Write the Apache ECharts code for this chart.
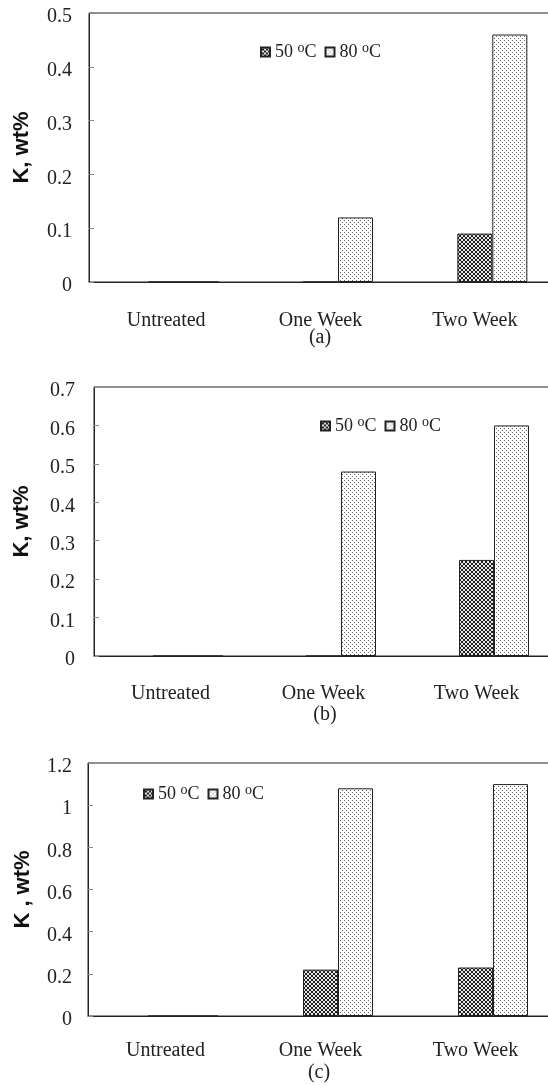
<!DOCTYPE html>
<html>
<head>
<meta charset="utf-8">
<script src="https://cdn.jsdelivr.net/npm/echarts@6/dist/echarts.min.js"></script>
<style>
html,body{margin:0;padding:0;background:#fff;}
#chart{width:548px;height:1085px;}
</style>
</head>
<body>
<div id="chart"></div>
<script>
// ---- data ----
var categories = ['Untreated', 'One Week', 'Two Week'];
var seriesNames = ['50', '80'];
var spacer = ['-', '-', '-'];
var a50 = [0, 0, 0.09];
var a80 = [0, 0.12, 0.46];
var b50 = [0, 0, 0.25];
var b80 = [0, 0.48, 0.60];
var c50 = [0, 0.22, 0.23];
var c80 = [0, 1.08, 1.10];
var yMax = [0.5, 0.7, 1.2];
var yStep = [0.1, 0.1, 0.2];
var yNames = ['K, wt%', 'K, wt%', 'K , wt%'];
var panelTags = ['(a)', '(b)', '(c)'];

// ---- patterns ----
function pattern(kind) {
  var c = document.createElement('canvas');
  c.width = 4; c.height = 4;
  var g = c.getContext('2d');
  if (kind === 'dots') {
    g.fillStyle = '#ffffff';
    g.fillRect(0, 0, 4, 4);
    g.fillStyle = '#666666';
    g.fillRect(0, 0, 1, 1);
    g.fillRect(2, 2, 1, 1);
  } else {
    g.fillStyle = '#e6e6e6';
    g.fillRect(0, 0, 4, 4);
    g.fillStyle = '#222222';
    for (var i = 0; i < 4; i++) {
      g.fillRect(i, i, 1, 1);
      g.fillRect(3 - i, i, 1, 1);
    }
  }
  return { image: c, repeat: 'repeat' };
}
var hatch = pattern('hatch');
var dots = pattern('dots');

var serif = 'Liberation Serif';
var grids = [
  { left: 89, top: 13, width: 463, height: 269, outerBoundsMode: 'none' },
  { left: 94, top: 387, width: 459, height: 269, outerBoundsMode: 'none' },
  { left: 88, top: 763, width: 465, height: 253, outerBoundsMode: 'none' }
];
var nameGaps = [56, 61, 54];
var xLabelMargins = [29, 28, 25];
var yLabelMargins = [17, 19, 16];
var legendPos = [{ left: 255, top: 36 }, { left: 315, top: 410 }, { left: 138, top: 778 }];
var tagPos = [[320, 338], [325, 715], [319, 1073]];
var dataSets = [[a50, a80], [b50, b80], [c50, c80]];

var option = {
  animation: false,
  backgroundColor: '#ffffff',
  grid: grids.map(function (g) {
    return Object.assign({ show: true, borderColor: '#222', borderWidth: 1, backgroundColor: 'transparent' }, g);
  }),
  xAxis: grids.map(function (g, i) {
    return {
      type: 'category', gridIndex: i, data: categories,
      axisLine: { lineStyle: { color: '#222', width: 1 } },
      axisTick: { show: false },
      axisLabel: { interval: 0, margin: xLabelMargins[i], fontFamily: serif, fontSize: 20, color: '#222' },
      splitLine: { show: false }
    };
  }),
  yAxis: grids.map(function (g, i) {
    return {
      type: 'value', gridIndex: i, min: 0, max: yMax[i], interval: yStep[i],
      name: yNames[i], nameLocation: 'middle', nameGap: nameGaps[i],
      nameTextStyle: { fontFamily: 'Liberation Sans', fontWeight: 'bold', fontSize: 22, color: '#111' },
      axisLine: { show: true, lineStyle: { color: '#222', width: 1 } },
      axisTick: { show: true, inside: true, length: 5, lineStyle: { color: '#888' } },
      axisLabel: { margin: yLabelMargins[i], fontFamily: serif, fontSize: 20, color: '#222', verticalAlign: 'top', lineHeight: 8 },
      splitLine: { show: false }
    };
  }),
  legend: legendPos.map(function (p) {
    return {
      left: p.left, top: p.top, orient: 'horizontal',
      data: seriesNames, icon: 'rect', itemWidth: 9, itemHeight: 9, itemGap: 8,
      selectedMode: false,
      formatter: function (n) { return n + ' {sup|o}C'; },
      textStyle: {
        fontFamily: serif, fontSize: 18, color: '#222', lineHeight: 22,
        rich: { sup: { fontFamily: serif, fontSize: 14, color: '#222', verticalAlign: 'top', lineHeight: 12 } }
      }
    };
  }),
  graphic: tagPos.map(function (p, i) {
    return {
      type: 'text', x: p[0], y: p[1], silent: true,
      style: { text: panelTags[i], align: 'center', verticalAlign: 'middle', fontFamily: serif, fontSize: 20, fill: '#222' }
    };
  }),
  series: []
};

dataSets.forEach(function (ds, i) {
  option.series.push({
    type: 'bar', name: 'spacer', xAxisIndex: i, yAxisIndex: i, data: spacer,
    barWidth: 35, barGap: '0%', silent: true, itemStyle: { color: 'transparent' }
  });
  option.series.push({
    type: 'bar', name: seriesNames[0], xAxisIndex: i, yAxisIndex: i, data: ds[0],
    barWidth: 35, barGap: '0%',
    itemStyle: { color: hatch, borderColor: '#222', borderWidth: 1 }
  });
  option.series.push({
    type: 'bar', name: seriesNames[1], xAxisIndex: i, yAxisIndex: i, data: ds[1],
    barWidth: 35, barGap: '0%',
    itemStyle: { color: dots, borderColor: '#222', borderWidth: 1 }
  });
});

var chart = echarts.init(document.getElementById('chart'), null, { renderer: 'canvas' });
chart.setOption(option);
</script>
</body>
</html>
